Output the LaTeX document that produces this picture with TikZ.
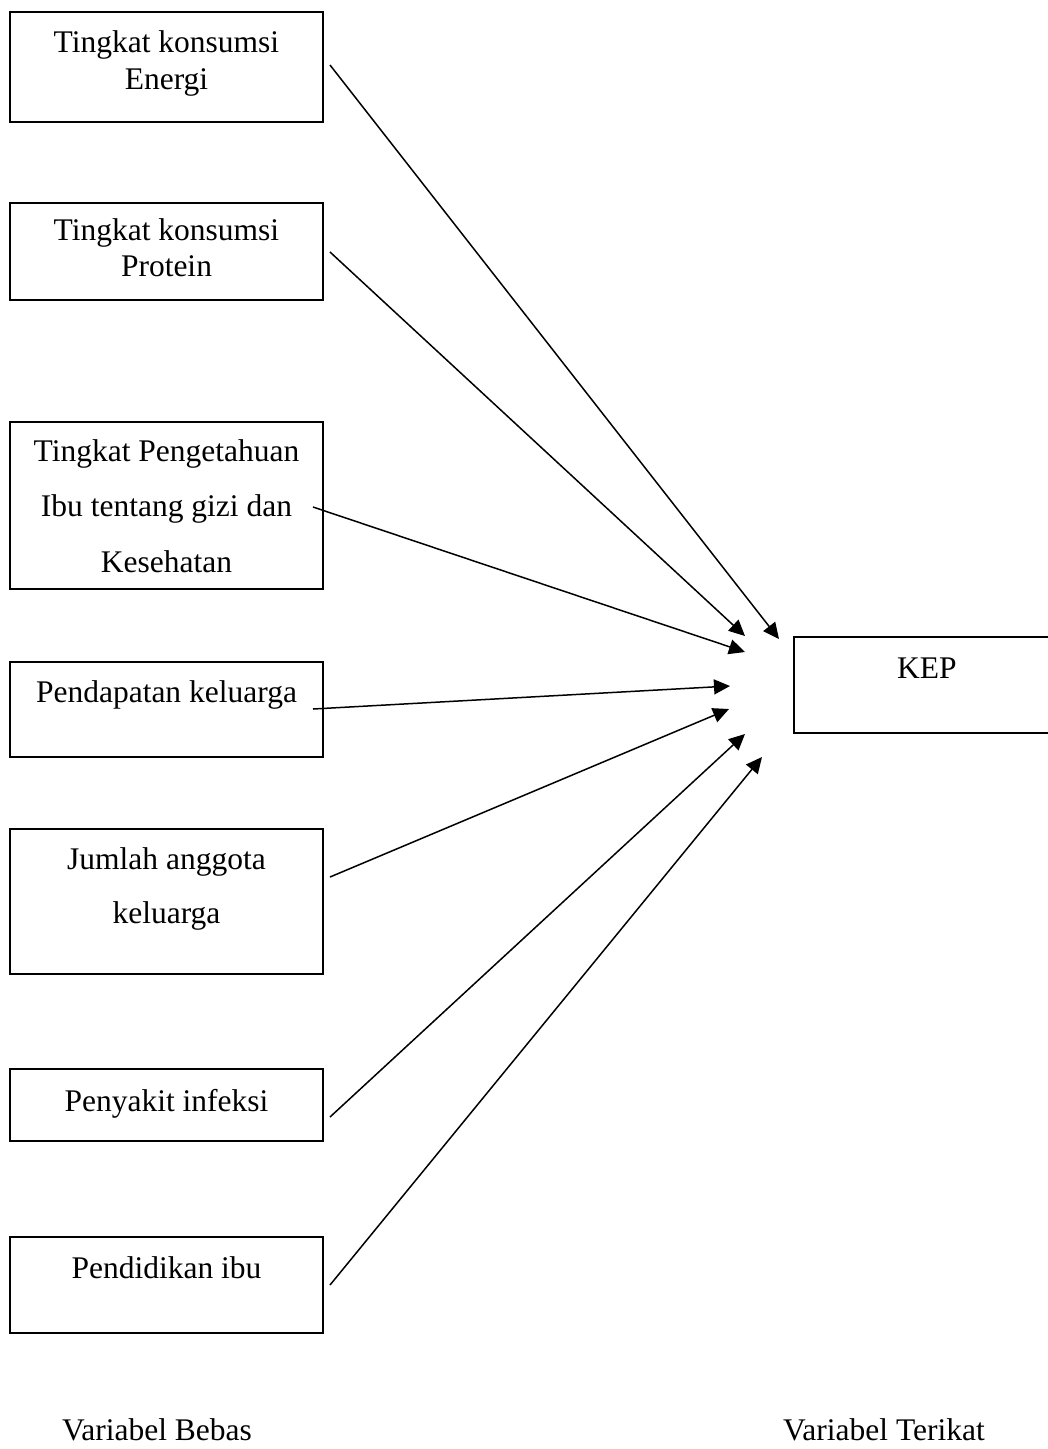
\documentclass[tikz,border=0pt]{standalone}
\usepackage{fontspec}
\setmainfont{Liberation Serif}
\usepackage{tikz}
\usetikzlibrary{shapes,arrows.meta}
\tikzset{x=0.4pt, y=-0.4pt}
\tikzset{varbox/.style={draw, rectangle, line width=0.8pt, inner sep=0pt,
                        minimum width=125.2pt}}
\tikzset{vartext/.style={align=center, inner sep=0pt,
                         font=\fontsize{12.6pt}{14.6pt}\selectfont}}
\tikzset{EdgeStyle/.style={line width=0.6pt,
                           -{Triangle[length=6.4pt,width=6pt]}}}

\begin{document}
\begin{tikzpicture}
	\useasboundingbox (0,0) rectangle (1048,1449);
	% variabel bebas
	\node[varbox, minimum height=44pt] (E) at (166.5,67) {};
	\node[vartext] (Et) at (166.5,63.7) {Tingkat konsumsi\\Energi};
	\node[varbox, minimum height=38.8pt] (P) at (166.5,251.5) {};
	\node[vartext] (Pt) at (166.5,247.8) {Tingkat konsumsi\\Protein};
	\node[varbox, minimum height=66.8pt] (IB) at (166.5,505.5) {};
	\node[vartext, font=\fontsize{12.6pt}{22.2pt}\selectfont] (IBt) at (166.5,505.8)
		{Tingkat Pengetahuan\\Ibu tentang gizi dan\\Kesehatan};
	\node[varbox, minimum height=38pt] (PK) at (166.5,709.5) {};
	\node[vartext, anchor=base] (PKt) at (166.5,702) {Pendapatan keluarga};
	\node[varbox, minimum height=58pt] (JA) at (166.5,901.5) {};
	\node[vartext, font=\fontsize{12.6pt}{21.4pt}\selectfont] (JAt) at (166.5,889.2)
		{Jumlah anggota\\keluarga};
	\node[varbox, minimum height=28.8pt] (PI) at (166.5,1105) {};
	\node[vartext, anchor=base] (PIt) at (166.5,1111) {Penyakit infeksi};
	\node[varbox, minimum height=38.4pt] (PD) at (166.5,1285) {};
	\node[vartext, anchor=base] (PDt) at (166.5,1278) {Pendidikan ibu};
	% variabel terikat
	\node[varbox, minimum width=106.4pt, minimum height=38.4pt] (KEP) at (927,685) {};
	\node[vartext, anchor=base] (KEPt) at (927,678) {KEP};
	\node[vartext, anchor=base] (VB) at (157,1440) {Variabel Bebas};
	\node[vartext, anchor=base] (VT) at (884,1440) {Variabel Terikat};
	% ujung panah
	\coordinate (E1) at (330,65);    \coordinate (E2) at (779,639);
	\coordinate (P1) at (330,252);   \coordinate (P2) at (745,636);
	\coordinate (IB1) at (313,507);  \coordinate (IB2) at (745,652);
	\coordinate (PK1) at (313,709);  \coordinate (PK2) at (730,686);
	\coordinate (JA1) at (330,877);  \coordinate (JA2) at (729,709);
	\coordinate (PI1) at (330,1117); \coordinate (PI2) at (745,734);
	\coordinate (PD1) at (330,1285); \coordinate (PD2) at (762,757);
	\draw[EdgeStyle] (E1) -- (E2);
	\draw[EdgeStyle] (P1) -- (P2);
	\draw[EdgeStyle] (IB1) -- (IB2);
	\draw[EdgeStyle] (PK1) -- (PK2);
	\draw[EdgeStyle] (JA1) -- (JA2);
	\draw[EdgeStyle] (PI1) -- (PI2);
	\draw[EdgeStyle] (PD1) -- (PD2);
\end{tikzpicture}
\end{document}
